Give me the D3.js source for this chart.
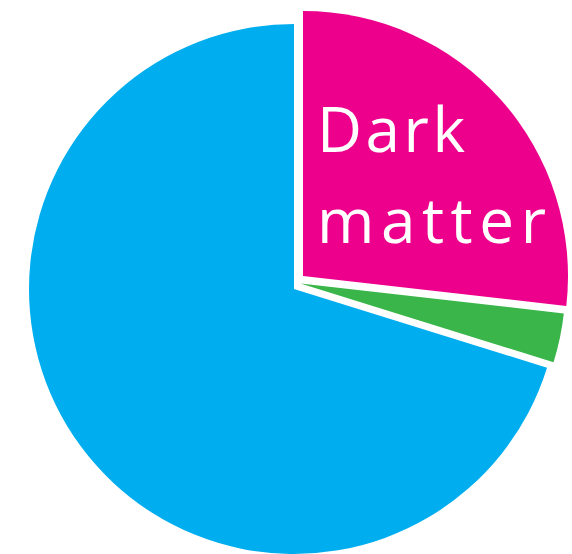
<!DOCTYPE html>
<html>
<head>
<meta charset="utf-8">
<script src="https://cdn.jsdelivr.net/npm/d3@7"></script>
<style>
  body { margin: 0; background: #fff; }
</style>
</head>
<body>
<div id="chart-area"></div>
<script>
// Data (percent of the universe), clockwise from 12 o'clock
const categories = ["Dark matter", "Ordinary matter", "Dark energy"]
const values = [26.8, 3.0, 70.2]
const labelLines = [["Dark", "matter"], [], []]

const width = 572
const height = 554
const cx = 294
const cy = 289
const radius = 265

// colours per slice and how far each slice is pulled out of the pie
const color = d3.scaleOrdinal()
    .domain(categories)
    .range(["#ec008c", "#39b54a", "#00aeef"])
const shift = { "Dark matter": [9, -13], "Ordinary matter": [6.5, -5.5], "Dark energy": [0, 0] }

const svg = d3.select("#chart-area").append("svg")
    .attr("width", width)
    .attr("height", height)

const pie = d3.pie().sort(null).value(d => d.value)
const arc = d3.arc().innerRadius(0).outerRadius(radius)

const data = categories.map((c, i) => ({ name: c, value: values[i], lines: labelLines[i] }))

const slices = svg.selectAll("g.slice")
    .data(pie(data))
    .enter().append("g")
    .attr("class", "slice")
    .attr("transform", d => {
        const s = shift[d.data.name]
        return `translate(${cx + s[0]},${cy + s[1]})`
    })

slices.append("path")
    .attr("d", arc)
    .attr("fill", d => color(d.data.name))

// label inside the dark matter slice
const label = svg.append("g")
    .attr("font-family", "'Open Sans', sans-serif")
    .attr("font-size", 62)
    .attr("fill", "#fff")

const dm = data[0]
const lineBase = [152, 243]
const lineLen = [148, 229]
dm.lines.forEach((t, i) => {
    label.append("text")
        .attr("x", 317)
        .attr("y", lineBase[i])
        .attr("textLength", lineLen[i])
        .attr("lengthAdjust", "spacing")
        .text(t)
})
</script>
</body>
</html>
